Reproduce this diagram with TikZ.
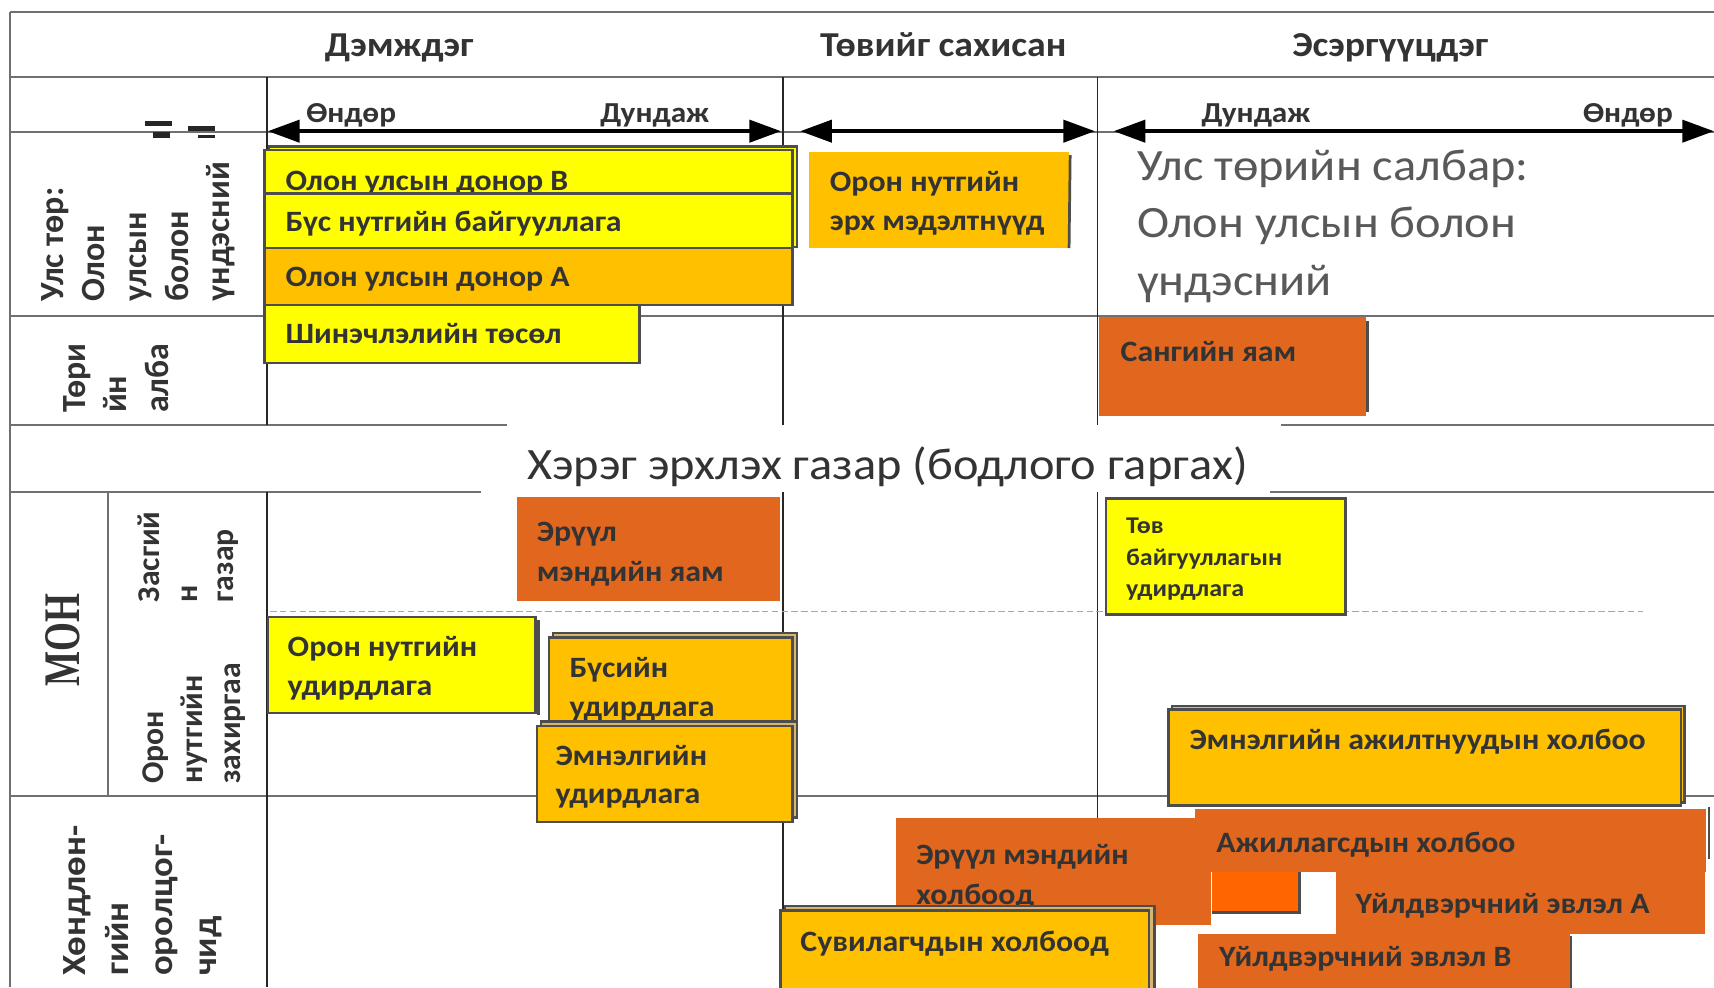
\documentclass[tikz,border=0pt]{standalone}
\usepackage{fontspec}
\setmainfont{Carlito}[FakeStretch=1.08]
\newfontfamily\plainfont{Carlito}
\newfontfamily\serifbold{Liberation Serif}
\usetikzlibrary{arrows.meta,fit}
\definecolor{yel}{HTML}{FFFF00}
\definecolor{org}{HTML}{FFC000}
\definecolor{dorg}{HTML}{E2671E}
\definecolor{borg}{HTML}{FF6600}
\definecolor{bord}{HTML}{4D4D4D}
\definecolor{txt}{HTML}{333333}
\definecolor{gtxt}{HTML}{595959}
\definecolor{gridc}{HTML}{707070}
\definecolor{tanc}{HTML}{D9B46E}
\begin{document}
\begin{tikzpicture}[x=1pt,y=-1pt,
  gridline/.style={draw=gridc, line width=1.8pt},
  colline/.style={draw=black!85, line width=1.8pt},
  dashline/.style={draw=gray!70, line width=1.6pt, dash pattern=on 6pt off 3pt},
  arr/.style={line width=4pt, {Triangle[length=29pt,width=20pt]}-{Triangle[length=29pt,width=20pt]}},
  bx/.style={rectangle, inner sep=0pt, outer sep=0pt},
  bbx/.style={bx, draw=bord, line width=2.2pt},
  shline/.style={draw=bord, line width=2.5pt},
  hdr/.style={inner sep=0pt, anchor=base west, text=txt, font=\bfseries\fontsize{32}{38}\selectfont},
  axl/.style={inner sep=0pt, anchor=base west, text=txt, font=\bfseries\fontsize{26.5}{30}\selectfont},
  lbl/.style={inner sep=0pt, anchor=base west, text=txt, font=\bfseries\fontsize{27}{33}\selectfont},
  sml/.style={inner sep=0pt, anchor=base west, text=txt, font=\bfseries\fontsize{22}{29}\selectfont},
  big/.style={inner sep=0pt, anchor=base west, font=\fontsize{41}{48}\selectfont},
  rot/.style={inner sep=0pt, anchor=base west, rotate=90, text=txt, font=\plainfont\bfseries\fontsize{31}{38}\selectfont},
  rots/.style={rot, font=\plainfont\bfseries\fontsize{29}{35}\selectfont},
  rotw/.style={rot, font=\bfseries\fontsize{31}{38}\selectfont},
]
\useasboundingbox (0,0) rectangle (1568,903);
\clip (0,0) rectangle (1568,903);
% ---------------- grid
\draw[gridline] (9,10.7) -- (1568,10.7);
\draw[gridline] (9,70.5) -- (1568,70.5);
\draw[gridline] (9,121) -- (1568,121);
\draw[gridline] (9,289) -- (1568,289);
\draw[gridline] (9,389) -- (464,389);
\draw[gridline] (1172,389) -- (1568,389);
\draw[gridline] (9,450) -- (440,450);
\draw[gridline] (1162,450) -- (1568,450);
\draw[gridline] (9,728) -- (1568,728);
\draw[gridline] (9,10.7) -- (9,903);
\draw[gridline] (99,450) -- (99,728);
\foreach \cx in {244,716,1004}{
  \draw[colline] (\cx,70.5) -- (\cx,389);
  \draw[colline] (\cx,450) -- (\cx,903);
}
\draw[dashline] (247,559.5) -- (1503,559.5);
% clipped glyph fragments
\fill[black!85] (133,111) rectangle (157,115.5);
\fill[black!85] (140,121) rectangle (155.5,126);
\fill[black!85] (172,115) rectangle (196.7,119.8);
\fill[black!85] (181,123.5) rectangle (196.7,126);
% ---------------- headers
\node[hdr] (h1) at (297,52) {Дэмждэг};
\node[hdr] (h2) at (750,52) {Төвийг сахисан};
\node[hdr] (h3) at (1182,52) {Эсэргүүцдэг};
% ---------------- arrows
\coordinate (a1l) at (245,120);
\coordinate (a1r) at (714.6,120);
\coordinate (a2l) at (732,120);
\coordinate (a2r) at (1001.8,120);
\coordinate (a3l) at (1018.7,120);
\coordinate (a3r) at (1568,120);
\draw[arr] (a1l) -- (a1r);
\draw[arr] (a2l) -- (a2r);
\draw[arr] (a3l) -- (a3r);
\node[axl] (x1) at (280,112) {Өндөр};
\node[axl] (x2) at (549,112) {Дундаж};
\node[axl] (x3) at (1099,112) {Дундаж};
\node[axl] (x4) at (1448,112) {Өндөр};
% ---------------- row labels
\node[rot] (r11) at (58,276) {Улс төр:};
\node[rot] (r12) at (96,276) {Олон};
\node[rot] (r13) at (134,276) {улсын};
\node[rot] (r14) at (172,276) {болон};
\node[rot] (r15) at (210,276) {үндэсний};
\node[rot] (r21) at (78,378) {Төри};
\node[rot] (r22) at (116,378) {йн};
\node[rot] (r23) at (154,378) {алба};
\node[inner sep=0pt, rotate=90, text=txt, font=\serifbold\bfseries\fontsize{34}{40}\selectfont] (mon) at (57.5,585.5) {\scalebox{1}[1.38]{МОН}};
\node[rots] (r31) at (145.5,551) {Засгий};
\node[rots] (r32) at (180.3,551) {н};
\node[rots] (r33) at (214,551) {газар};
\node[rots] (r41) at (150,717) {Орон};
\node[rots] (r42) at (185,717) {нутгийн};
\node[rots] (r43) at (220,717) {захиргаа};
\node[rotw] (r51) at (78,893) {Хөндлөн-};
\node[rotw] (r52) at (118,893) {гийн};
\node[rotw] (r53) at (157.5,893) {оролцог-};
\node[rotw] (r54) at (198,893) {чид};
% ---------------- top boxes
\node[bbx, fill=yel, fit={(246,134) (729,226)}] (b1s) {};
\node[bbx, fill=yel, fit={(242,137) (725,177)}] (b1) {};
\node[lbl] (t1) at (261,174) {Олон улсын донор В};
\node[bbx, fill=yel, fit={(242,177) (725,227)}] (b2) {};
\node[lbl] (t2) at (261,212) {Бүс нутгийн байгууллага};
\node[bbx, fill=org, fit={(242,227) (725,279)}] (b3) {};
\node[lbl] (t3) at (261,262) {Олон улсын донор А};
\node[bbx, fill=yel, fit={(242,279) (585,332)}] (b4) {};
\node[lbl] (t4) at (261,314) {Шинэчлэлийн төсөл};
\node[bx, fill=org, fit={(740,139) (978,227)}] (b5) {};
\draw[shline] (b5.north east) ++(1,3) -- (b5.south east);
\node[lbl] (t5a) at (759,175) {Орон нутгийн};
\node[lbl] (t5b) at (759,210.5) {эрх мэдэлтнүүд};
\node[big, text=gtxt] (t6a) at (1040,164.7) {Улс төрийн салбар:};
\node[big, text=gtxt] (t6b) at (1040,217) {Олон улсын болон};
\node[big, text=gtxt] (t6c) at (1040,270) {үндэсний};
\node[bx, fill=dorg, fit={(1005,290) (1250,381)}] (b7) {};
\draw[shline] (1251,294) -- (1251,377);
\node[lbl] (t7) at (1025,331) {Сангийн яам};
% ---------------- middle
\node[big, text=txt] (t8) at (482,439) {Хэрэг эрхлэх газар (бодлого гаргах)};
\node[bx, fill=dorg, fit={(473,455) (713.6,550)}] (b9) {};
\node[lbl] (t9a) at (491,495) {Эрүүл};
\node[lbl] (t9b) at (491,531.6) {мэндийн яам};
\node[bbx, fill=yel, fit={(1012,456) (1231,562)}] (b10) {};
\node[sml] (t10a) at (1030,488) {Төв};
\node[sml] (t10b) at (1030,517) {байгууллагын};
\node[sml] (t10c) at (1030,546) {удирдлага};
\draw[shline] (492.5,567) -- (492.5,654);
\node[bbx, fill=yel, fit={(245,564.5) (490,652)}] (b11) {};
\node[lbl] (t11a) at (263,601) {Орон нутгийн};
\node[lbl] (t11b) at (263,636) {удирдлага};
\node[bbx, fill=tanc, fit={(506,579) (729,661)}] (b12s) {};
\node[bbx, fill=org, fit={(502,583) (725,665)}] (b12) {};
\node[lbl] (t12a) at (521,620) {Бүсийн};
\node[lbl] (t12b) at (521,655.6) {удирдлага};
\node[bbx, fill=tanc, fit={(495,660) (729,748)}] (b13s) {};
\node[bbx, fill=org, fit={(491,664) (725,752)}] (b13) {};
\node[lbl] (t13a) at (508,700) {Эмнэлгийн};
\node[lbl] (t13b) at (508,735) {удирдлага};
\node[bbx, fill=org, fit={(1072,646) (1541,734)}] (b14s) {};
\node[bbx, fill=org, fit={(1069,649) (1538,737)}] (b14) {};
\node[lbl] (t14) at (1088,686) {Эмнэлгийн ажилтнуудын холбоо};
% ---------------- bottom
\node[bx, fill=dorg, fit={(820,748) (1108,846)}] (b15) {};
\node[lbl] (t15a) at (838,790.5) {Эрүүл мэндийн};
\node[lbl] (t15b) at (838,827.6) {холбоод};
\draw[shline] (1563.5,738) -- (1563.5,786);
\node[bx, fill=dorg, fit={(1093,740) (1561,798)}] (b16) {};
\node[lbl] (t16) at (1112.6,779.5) {Ажиллагсдын холбоо};
\node[bx, fill=borg, fit={(1109,798) (1189,834.5)}] (b17) {};
\draw[shline] (b17.north east) -- (b17.south east) -- (b17.south west);
\node[bx, fill=dorg, fit={(1222,798) (1560,854)}] (b18) {};
\node[lbl] (t18) at (1240,836) {Үйлдвэрчний эвлэл А};
\node[bbx, fill=tanc, fit={(718,829) (1056,910)}] (b19s) {};
\node[bbx, fill=org, fit={(714,833) (1051,910)}] (b19) {};
\node[lbl] (t19) at (732,870) {Сувилагчдын холбоод};
\draw[shline] (1437,856) -- (1437,910);
\node[bx, fill=dorg, fit={(1096,854) (1436,910)}] (b20) {};
\node[lbl] (t20) at (1115,884.5) {Үйлдвэрчний эвлэл В};
\end{tikzpicture}
\end{document}
